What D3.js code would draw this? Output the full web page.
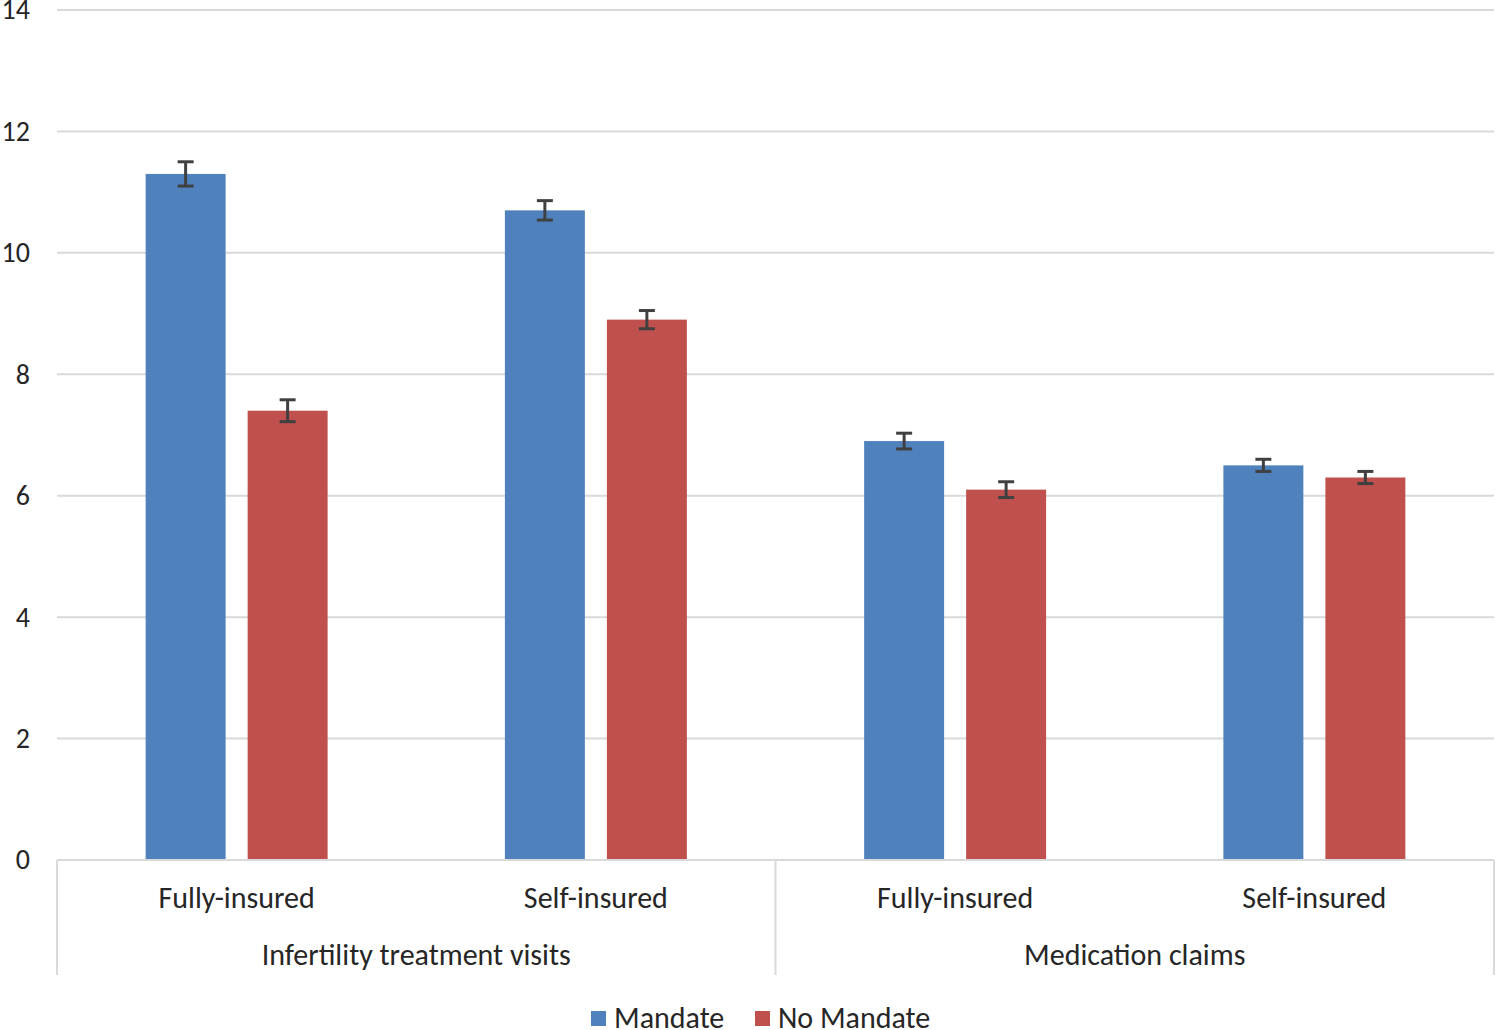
<!DOCTYPE html>
<html><head><meta charset="utf-8">
<script src="https://cdn.jsdelivr.net/npm/d3@7"></script>
<style>body{margin:0;background:#fff;} text{font-family:Carlito,"Open Sans",Calibri,sans-serif;fill:#262626;}</style>
</head><body>
<svg id="c" width="1496" height="1030"></svg>
<script>
const groups = ["Infertility treatment visits", "Medication claims"];
const categories = ["Fully-insured", "Self-insured", "Fully-insured", "Self-insured"];
const categoryGroup = [0, 0, 1, 1];
const seriesNames = ["Mandate", "No Mandate"];
const mandate = [11.3, 10.7, 6.9, 6.5];
const noMandate = [7.4, 8.9, 6.1, 6.3];
const mandateErr = [0.2, 0.16, 0.13, 0.1];
const noMandateErr = [0.18, 0.15, 0.13, 0.1];
const yTicks = [0, 2, 4, 6, 8, 10, 12, 14];
const colors = ["#4F81BD", "#C0504D"];

(function () {
const svg = d3.select("#c");
const pL = 57, pR = 1494, pT = 10, pB = 860;
const y = d3.scaleLinear().domain([0, 14]).range([pB, pT]);
const x = d3.scaleBand().domain(d3.range(categories.length)).range([pL, pR]).paddingInner(0).paddingOuter(0);
const xs = d3.scaleBand().domain([0, 1]).range([0, x.bandwidth()]).paddingInner(0.216).paddingOuter(0.869);

svg.append("g").selectAll("line").data(yTicks).join("line")
  .attr("x1", pL).attr("x2", pR)
  .attr("y1", d => y(d)).attr("y2", d => y(d))
  .attr("stroke", "#d9d9d9").attr("stroke-width", 2);

const yAxis = d3.axisLeft(y).tickValues(yTicks).tickSize(0).tickPadding(27);
const ga = svg.append("g").attr("transform", `translate(${pL},0)`).call(yAxis);
ga.select(".domain").remove();
ga.selectAll("text").style("font-size", "28px").attr("fill", "#262626")
  .style("font-family", "Carlito,'Open Sans',sans-serif");

const data = [];
categories.forEach((c, i) => {
  data.push({i, s: 0, v: mandate[i], e: mandateErr[i]});
  data.push({i, s: 1, v: noMandate[i], e: noMandateErr[i]});
});
svg.append("g").selectAll("rect").data(data).join("rect")
  .attr("x", d => x(d.i) + xs(d.s)).attr("width", xs.bandwidth())
  .attr("y", d => y(d.v)).attr("height", d => y(0) - y(d.v))
  .attr("fill", d => colors[d.s]);

const eg = svg.append("g").attr("stroke", "#404040").attr("stroke-width", 3);
data.forEach(d => {
  const cx = x(d.i) + xs(d.s) + xs.bandwidth() / 2;
  eg.append("line").attr("x1", cx).attr("x2", cx).attr("y1", y(d.v + d.e)).attr("y2", y(d.v - d.e));
  eg.append("line").attr("x1", cx - 8).attr("x2", cx + 8).attr("y1", y(d.v + d.e)).attr("y2", y(d.v + d.e));
  eg.append("line").attr("x1", cx - 8).attr("x2", cx + 8).attr("y1", y(d.v - d.e)).attr("y2", y(d.v - d.e));
});

svg.append("line").attr("x1", pL).attr("x2", pR).attr("y1", y(0)).attr("y2", y(0))
  .attr("stroke", "#d9d9d9").attr("stroke-width", 2);
const divs = [pL, x(2), pR];
svg.append("g").selectAll("line").data(divs).join("line")
  .attr("x1", d => d).attr("x2", d => d).attr("y1", y(0)).attr("y2", 975)
  .attr("stroke", "#d9d9d9").attr("stroke-width", 2);

svg.append("g").selectAll("text").data(categories).join("text")
  .attr("x", (d, i) => x(i) + x.bandwidth() / 2).attr("y", 908)
  .attr("text-anchor", "middle").style("font-size", "30px").text(d => d);

svg.append("g").selectAll("text").data(groups).join("text")
  .attr("x", (d, gi) => {
    const idx = categories.map((c, i) => i).filter(i => categoryGroup[i] === gi);
    return (x(idx[0]) + x(idx[idx.length - 1]) + x.bandwidth()) / 2;
  }).attr("y", 965)
  .attr("text-anchor", "middle").style("font-size", "30px").text(d => d);

const legX = [591, 755];
const lg = svg.append("g");
seriesNames.forEach((s, i) => {
  lg.append("rect").attr("x", legX[i]).attr("y", 1011).attr("width", 15).attr("height", 15).attr("fill", colors[i]);
  lg.append("text").attr("x", legX[i] + 23).attr("y", 1028).style("font-size", "30px").text(s);
});
})();
</script>
</body></html>
